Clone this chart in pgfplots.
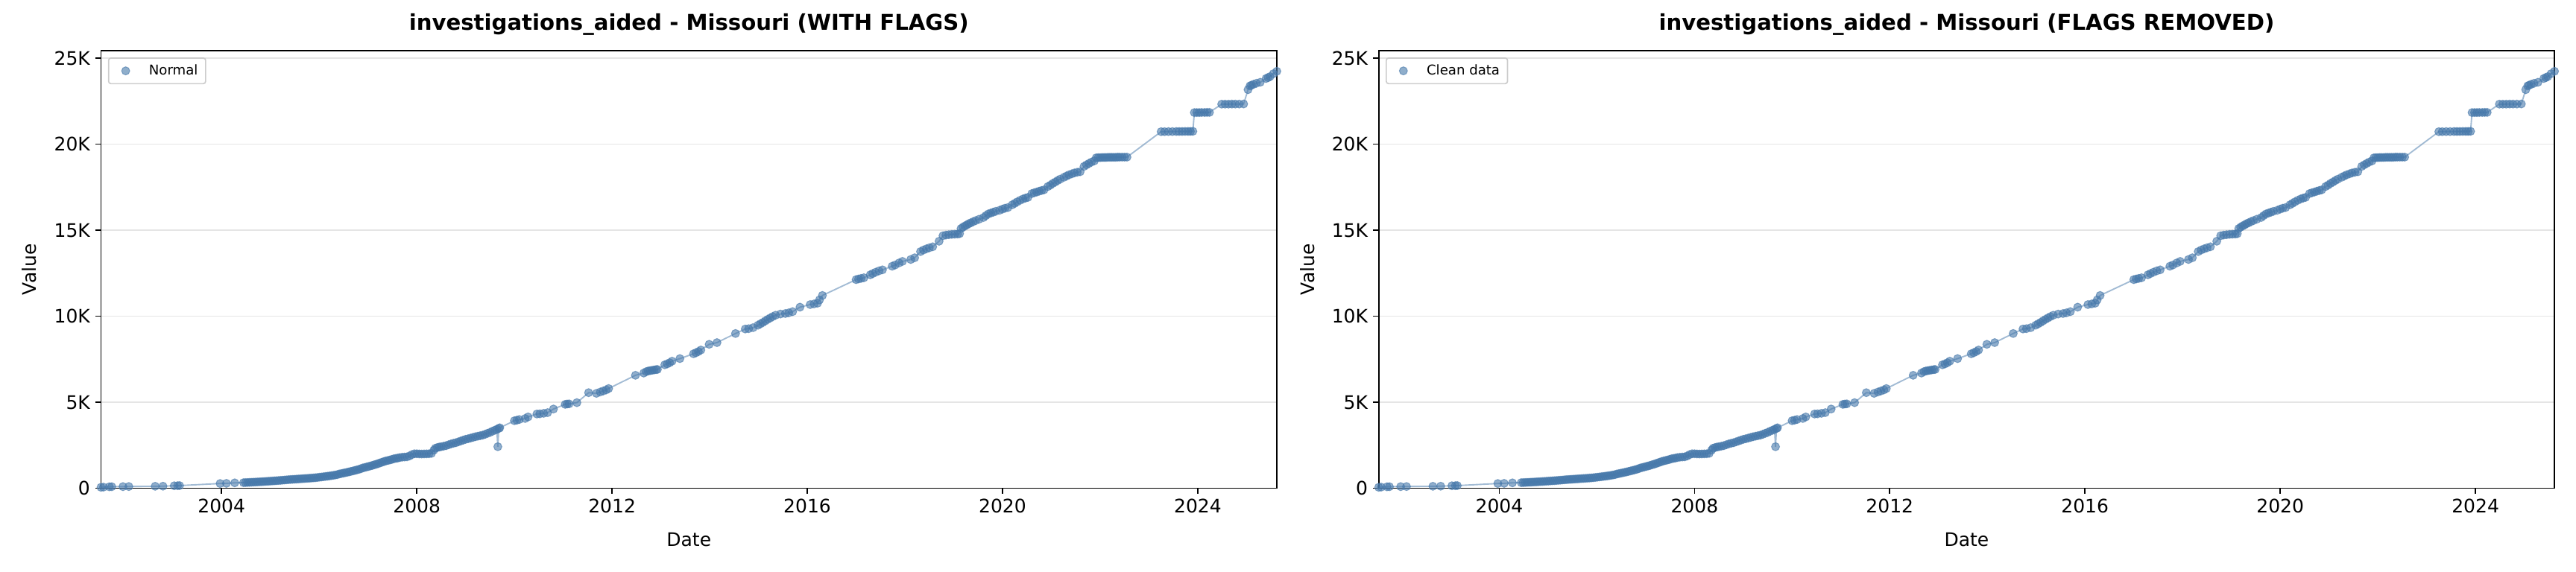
\documentclass[border=0pt]{standalone}
\usepackage{fontspec}
\setmainfont{DejaVu Sans}
\usepackage{pgfplots}
\usepackage{pgfplotstable}
\pgfplotsset{compat=1.18}
\definecolor{pt}{RGB}{70,120,170}

\pgfplotstableread{
x y
2001.53 60
2001.58 70
2001.70 90
2001.75 95
2001.98 100
2002.10 105
2002.64 120
2002.80 125
2003.03 150
2003.10 155
2003.14 160
2003.97 280
2004.10 290
2004.27 320
2004.45 330
2004.49 335
2004.53 340
2004.57 346
2004.61 352
2004.65 358
2004.69 364
2004.73 370
2004.77 377
2004.81 384
2004.85 390
2004.89 398
2004.93 406
2004.97 414
2005.01 422
2005.05 430
2005.09 438
2005.13 446
2005.17 455
2005.21 464
2005.25 473
2005.29 483
2005.33 494
2005.37 505
2005.41 512
2005.45 520
2005.49 527
2005.53 535
2005.57 543
2005.61 551
2005.65 559
2005.69 567
2005.73 575
2005.77 583
2005.81 591
2005.85 599
2005.89 608
2005.93 620
2005.97 633
2006.01 647
2006.05 661
2006.09 675
2006.13 690
2006.17 705
2006.21 720
2006.25 737
2006.29 755
2006.33 775
2006.37 795
2006.41 835
2006.45 855
2006.49 880
2006.53 905
2006.57 930
2006.61 955
2006.65 985
2006.69 1010
2006.73 1040
2006.77 1070
2006.81 1100
2006.85 1135
2006.89 1184
2006.93 1210
2006.97 1240
2007.01 1270
2007.05 1300
2007.09 1330
2007.13 1370
2007.17 1400
2007.21 1440
2007.25 1480
2007.29 1520
2007.33 1560
2007.37 1595
2007.41 1620
2007.45 1650
2007.49 1680
2007.53 1720
2007.57 1740
2007.61 1760
2007.65 1790
2007.70 1810
2007.75 1820
2007.80 1830
2007.85 1880
2007.90 1960
2007.95 2010
2008.00 2010
2008.05 2000
2008.10 1995
2008.15 2000
2008.20 2005
2008.25 2010
2008.30 2030
2008.35 2220
2008.38 2330
2008.42 2370
2008.46 2400
2008.50 2420
2008.55 2450
2008.60 2480
2008.65 2530
2008.70 2580
2008.75 2620
2008.80 2650
2008.85 2700
2008.90 2750
2008.95 2800
2009.00 2850
2009.05 2880
2009.10 2920
2009.15 2960
2009.20 3000
2009.25 3030
2009.30 3060
2009.35 3090
2009.40 3140
2009.45 3200
2009.50 3250
2009.55 3320
2009.60 3380
2009.64 3430
2009.66 2420
2009.68 3480
2009.70 3520
2010.00 3930
2010.05 3960
2010.10 4000
2010.22 4060
2010.28 4150
2010.46 4320
2010.52 4330
2010.60 4360
2010.68 4400
2010.80 4610
2011.04 4880
2011.08 4900
2011.12 4910
2011.28 4980
2011.52 5560
2011.68 5520
2011.76 5600
2011.82 5660
2011.88 5720
2011.93 5800
2012.48 6570
2012.65 6700
2012.70 6780
2012.74 6820
2012.78 6840
2012.82 6860
2012.86 6880
2012.90 6900
2012.93 6910
2013.08 7180
2013.13 7230
2013.18 7300
2013.23 7390
2013.39 7540
2013.67 7820
2013.72 7880
2013.77 7950
2013.82 8040
2013.99 8370
2014.15 8470
2014.53 9000
2014.73 9260
2014.80 9280
2014.89 9340
2014.99 9480
2015.04 9560
2015.09 9640
2015.14 9730
2015.19 9820
2015.24 9900
2015.29 9980
2015.35 10060
2015.45 10130
2015.55 10160
2015.62 10200
2015.70 10270
2015.85 10530
2016.06 10680
2016.14 10720
2016.21 10760
2016.25 10950
2016.31 11210
2017.00 12130
2017.05 12170
2017.10 12200
2017.16 12240
2017.29 12410
2017.34 12480
2017.40 12560
2017.47 12640
2017.54 12700
2017.74 12910
2017.80 12980
2017.88 13100
2017.95 13190
2018.12 13300
2018.20 13400
2018.32 13760
2018.38 13850
2018.44 13920
2018.50 13980
2018.57 14040
2018.70 14360
2018.78 14680
2018.84 14720
2018.90 14740
2018.96 14760
2019.02 14770
2019.08 14780
2019.12 14800
2019.15 15100
2019.19 15180
2019.23 15250
2019.27 15310
2019.31 15380
2019.35 15430
2019.40 15500
2019.45 15560
2019.52 15640
2019.61 15740
2019.66 15850
2019.71 15950
2019.76 16000
2019.81 16050
2019.86 16100
2019.94 16160
2020.00 16230
2020.05 16280
2020.11 16320
2020.20 16480
2020.25 16560
2020.30 16650
2020.36 16740
2020.42 16820
2020.47 16870
2020.52 16910
2020.60 17130
2020.65 17180
2020.70 17220
2020.75 17270
2020.80 17310
2020.85 17350
2020.93 17540
2020.98 17620
2021.03 17720
2021.08 17800
2021.13 17890
2021.18 17970
2021.26 18080
2021.31 18150
2021.36 18220
2021.42 18280
2021.47 18330
2021.53 18370
2021.59 18400
2021.67 18710
2021.72 18800
2021.77 18880
2021.82 18960
2021.88 19030
2021.92 19210
2021.96 19220
2022.00 19220
2022.04 19230
2022.08 19230
2022.12 19230
2022.16 19240
2022.20 19240
2022.24 19240
2022.28 19240
2022.32 19240
2022.36 19250
2022.40 19250
2022.45 19250
2022.50 19250
2022.55 19250
2023.25 20730
2023.32 20730
2023.40 20735
2023.48 20735
2023.56 20740
2023.62 20740
2023.68 20740
2023.74 20745
2023.80 20745
2023.85 20745
2023.90 20750
2023.93 21840
2023.98 21840
2024.03 21840
2024.08 21845
2024.14 21845
2024.19 21850
2024.24 21850
2024.49 22330
2024.56 22330
2024.63 22330
2024.70 22335
2024.77 22335
2024.85 22335
2024.94 22340
2025.03 23170
2025.07 23390
2025.10 23430
2025.14 23480
2025.20 23540
2025.28 23600
2025.40 23820
2025.44 23870
2025.48 23930
2025.55 24100
2025.62 24240
}\mydata

\pgfplotsset{myax/.style={
  width=757.2pt, height=282.2pt, scale only axis,
  xmin=2001.53, xmax=2025.62, ymin=0, ymax=25450,
  xtick={2004,2008,2012,2016,2020,2024},
  xticklabels={2004,2008,2012,2016,2020,2024},
  ytick={0,5000,10000,15000,20000,25000},
  yticklabels={0,5K,10K,15K,20K,25K},
  scaled y ticks=false, scaled x ticks=false,
  tick pos=left, tick align=outside, major tick length=3.5pt,
  every tick/.style={black, line width=0.8pt},
  axis line style={black, line width=0.8pt},
  ymajorgrids, major grid style={black!10, line width=0.8pt},
  ticklabel style={font=\fontsize{12}{14}\selectfont},
  /pgf/number format/assume math mode=true,
  title style={at={(axis description cs:0.5,1.025)}, anchor=base, font=\fontsize{14}{16}\selectfont\bfseries},
  xlabel={Date}, ylabel={Value},
  xlabel style={at={(axis description cs:0.5,-0.1332)}, anchor=base, font=\fontsize{12}{14}\selectfont},
  ylabel style={at={(axis description cs:-0.0549,0.5)}, anchor=base, font=\fontsize{12}{14}\selectfont},
  legend style={at={(axis description cs:0,1)}, anchor=north west, xshift=4.5pt, yshift=-4.5pt,
    draw=black!20, line width=0.8pt, rounded corners=1.5pt, fill=white, fill opacity=0.8, text opacity=1,
    inner xsep=3pt, inner ysep=2.2pt,
    font=\fontsize{8.7}{10}\selectfont},
  legend cell align=left,
}}

\begin{document}
\begin{tikzpicture}
\useasboundingbox (-65.04pt,-53.92pt) rectangle (1593.84pt,314.72pt);
\begin{axis}[myax, at={(0pt,0pt)}, anchor=south west,
  title={investigations\_aided - Missouri (WITH FLAGS)}]
\addplot[pt, draw opacity=0.5, line width=0.9pt, forget plot] table[x=x,y=y] {\mydata};
\addplot[only marks, mark=*, mark size=2.6pt, mark options={fill=pt, fill opacity=0.6, draw=pt, draw opacity=0.6, line width=0.5pt},
  legend image code/.code={\pgfpathrectangle{\pgfpoint{0pt}{-3pt}}{\pgfpoint{21pt}{6pt}}\pgfusepath{discard}\draw[##1] plot coordinates {(8pt,0pt)};}] table[x=x,y=y] {\mydata};
\addlegendentry{Normal}
\end{axis}
\begin{axis}[myax, at={(822.8pt,0pt)}, anchor=south west,
  title={investigations\_aided - Missouri (FLAGS REMOVED)}]
\addplot[pt, draw opacity=0.5, line width=0.9pt, forget plot] table[x=x,y=y] {\mydata};
\addplot[only marks, mark=*, mark size=2.6pt, mark options={fill=pt, fill opacity=0.6, draw=pt, draw opacity=0.6, line width=0.5pt},
  legend image code/.code={\pgfpathrectangle{\pgfpoint{0pt}{-3pt}}{\pgfpoint{21pt}{6pt}}\pgfusepath{discard}\draw[##1] plot coordinates {(8pt,0pt)};}] table[x=x,y=y] {\mydata};
\addlegendentry{Clean data}
\end{axis}
\end{tikzpicture}
\end{document}
